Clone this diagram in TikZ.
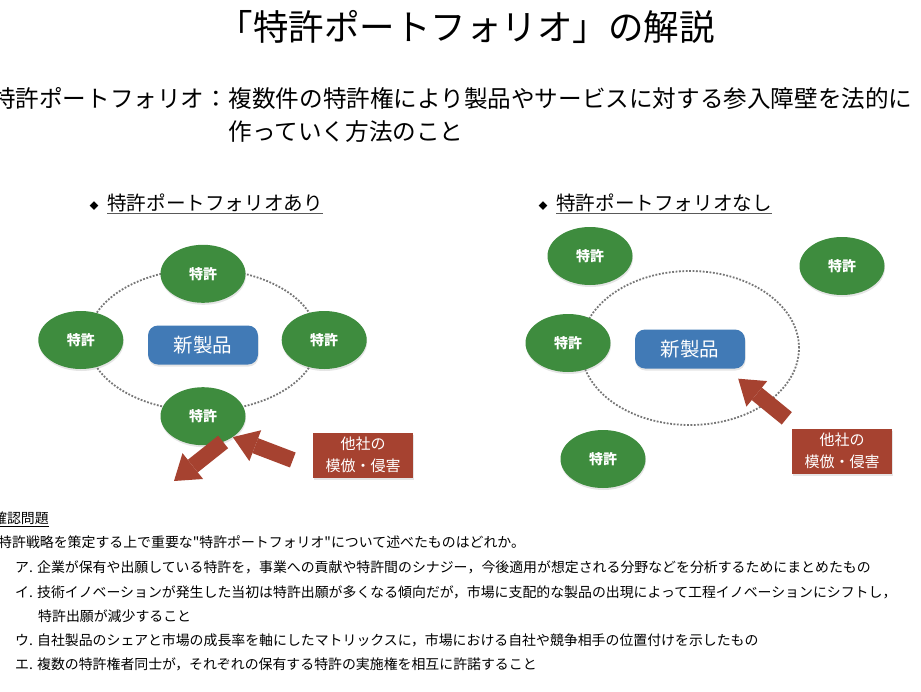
\documentclass[tikz,border=0pt]{standalone}
\usepackage{fontspec}
\setmainfont{Noto Sans CJK JP}[Ligatures=TeXOff]
\usetikzlibrary{shapes.geometric,positioning,arrows.meta,shadows}
\definecolor{patgreen}{RGB}{62,140,62}
\definecolor{prodblue}{RGB}{65,122,182}
\definecolor{rivalred}{RGB}{166,66,48}
\definecolor{ringgray}{RGB}{118,118,118}
\tikzset{
  txt/.style={inner sep=0pt,anchor=base west},
  patent/.style={ellipse,fill=patgreen,minimum width=85pt,minimum height=58pt,inner sep=0pt,
    text=white,font=\bfseries\fontsize{14}{14}\selectfont,
    drop shadow={opacity=0.2,shadow xshift=0.5pt,shadow yshift=-2pt}},
  product/.style={rectangle,rounded corners=10pt,fill=prodblue,minimum width=110pt,minimum height=39pt,
    text=white,font=\fontsize{19.5}{19.5}\selectfont,
    drop shadow={opacity=0.2,shadow xshift=0.5pt,shadow yshift=-2pt}},
  rival/.style={rectangle,fill=rivalred,minimum width=100pt,minimum height=45pt,align=center,
    text=white,font=\fontsize{15}{22}\selectfont,
    drop shadow={opacity=0.2,shadow xshift=0.5pt,shadow yshift=-2pt}},
  ring/.style={draw=ringgray,line width=1.8pt,dash pattern=on 1.8pt off 1.6pt},
  bigarrow/.style={rivalred,line width=16pt,-{Triangle[width=33pt,length=24pt,line width=0pt]}}
}
\begin{document}
\begin{tikzpicture}[x=1pt,y=-1pt]
\path[use as bounding box,fill=white] (0,0) rectangle (921,691);
% headings
\node[inner sep=0pt,anchor=base,font=\fontsize{35.5}{40}\selectfont] (title) at (466,40) {「特許ポートフォリオ」の解説};
\node[txt,font=\fontsize{23.6}{28}\selectfont] (defterm) at (-8,107) {特許ポートフォリオ：};
\node[txt,font=\fontsize{23.6}{28}\selectfont] (defbody) at (defterm.base east) {複数件の特許権により製品やサービスに対する参入障壁を法的に};
\node[txt,font=\fontsize{23.6}{28}\selectfont] (defbody2) at ([yshift=-33pt]defbody.base west) {作っていく方法のこと};

% with portfolio
\node[font=\fontsize{9}{9}\selectfont,inner sep=0pt] (bulA) at (94,206) {◆};
\node[txt,inner ysep=1.5pt,font=\fontsize{19.6}{22}\selectfont] (subA) at (107,210.5) {特許ポートフォリオあり};
\draw[gray!70!black,line width=1pt] (subA.south west) -- (subA.south east);
\draw[ring] (203,340) ellipse [x radius=115pt,y radius=71pt];
\coordinate (hubA) at (203,340);
\node[product] (prodA) at (203,345) {新製品};
\node[patent] (patA1) [above=37pt of hubA] {特許};
\node[patent] (patA2) [left=79.5pt of hubA] {特許};
\node[patent] (patA3) [right=78.5pt of hubA] {特許};
\node[patent] (patA4) [below=47pt of hubA] {特許};
\node[rival] (rivalA) at (363,455) {他社の\\模倣・侵害};
\coordinate (leak) at (174,481);
\draw[bigarrow] ([shift={(-20pt,-5pt)}]rivalA.west) -- (patA4.-35);
\draw[bigarrow] (patA4.-52) -- (leak);

% without portfolio
\node[font=\fontsize{9}{9}\selectfont,inner sep=0pt] (bulB) at (543,206) {◆};
\node[txt,inner ysep=1.5pt,font=\fontsize{19.6}{22}\selectfont] (subB) at (556,210.5) {特許ポートフォリオなし};
\draw[gray!70!black,line width=1pt] (subB.south west) -- (subB.south east);
\draw[ring] (690,348) ellipse [x radius=109pt,y radius=77pt];
\node[product] (prodB) at (690,349) {新製品};
\node[patent] (patB1) at (590,256) {特許};
\node[patent] (patB2) at (842,266) {特許};
\node[patent] (patB3) at (568,343) {特許};
\node[patent] (patB4) at (603,459) {特許};
\node[rival] (rivalB) at (842,451) {他社の\\模倣・侵害};
\draw[bigarrow] ([shift={(-5pt,10pt)}]rivalB.north west) -- ([shift={(-7pt,-10pt)}]prodB.south east);

% question
\node[txt,inner ysep=1.5pt,font=\fontsize{13.9}{16}\selectfont] (qhead) at (-7,523) {確認問題};
\draw[black,line width=0.7pt] (qhead.south west) -- (qhead.south east);
\node[txt,font=\fontsize{13.9}{16}\selectfont] (qtext) at (-2,547) {特許戦略を策定する上で重要な"特許ポートフォリオ"について述べたものはどれか。};
\node[txt,font=\fontsize{13.9}{16}\selectfont] (optA) at (15,572) {ア. 企業が保有や出願している特許を，事業への貢献や特許間のシナジー，今後適用が想定される分野などを分析するためにまとめたもの};
\node[txt,font=\fontsize{13.9}{16}\selectfont] (optB) at (15,597) {イ. 技術イノベーションが発生した当初は特許出願が多くなる傾向だが，市場に支配的な製品の出現によって工程イノベーションにシフトし，};
\node[txt,font=\fontsize{13.9}{16}\selectfont] (optB2) at (38,621) {特許出願が減少すること};
\node[txt,font=\fontsize{13.9}{16}\selectfont] (optC) at (15,645) {ウ. 自社製品のシェアと市場の成長率を軸にしたマトリックスに，市場における自社や競争相手の位置付けを示したもの};
\node[txt,font=\fontsize{13.9}{16}\selectfont] (optD) at (15,669) {エ. 複数の特許権者同士が，それぞれの保有する特許の実施権を相互に許諾すること};
\end{tikzpicture}
\end{document}
